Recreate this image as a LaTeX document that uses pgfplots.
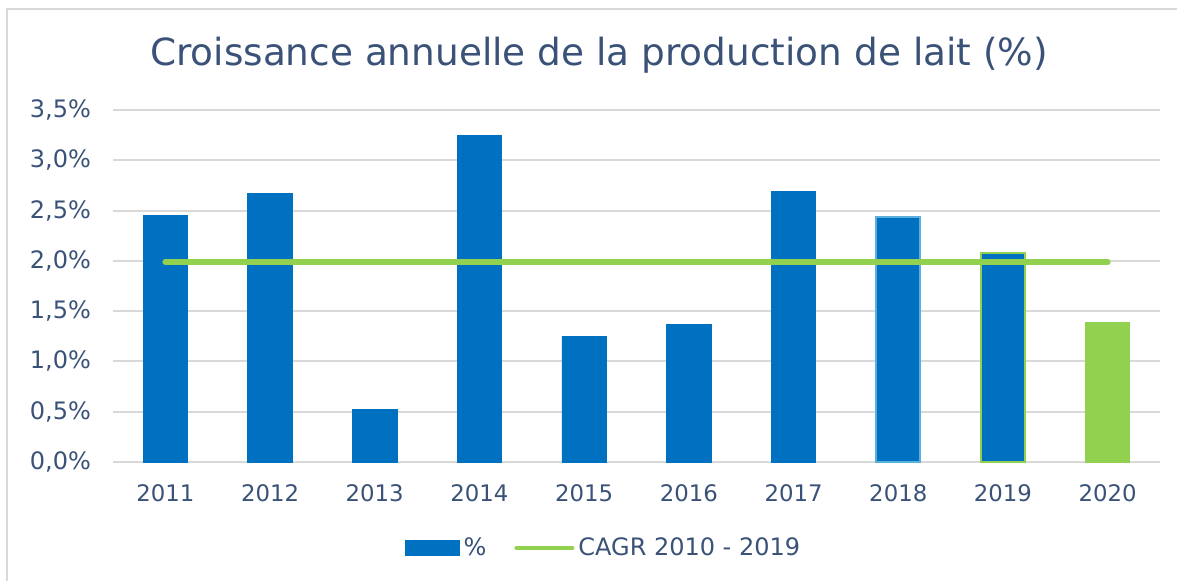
\documentclass[border=0pt]{standalone}
\usepackage{fontspec}
\setmainfont{DejaVu Sans}
\usepackage{pgfplots}
\pgfplotsset{compat=1.18}

\definecolor{barblue}{RGB}{0,112,192}
\definecolor{cagrgreen}{RGB}{146,208,80}
\definecolor{edgeblue}{RGB}{90,175,220}
\definecolor{txt}{RGB}{58,82,120}
\definecolor{gridgray}{RGB}{217,217,217}

\begin{document}
\begin{tikzpicture}
% page frame (1px = 0.5pt)
\path[use as bounding box] (0,0) rectangle (588.5pt,290.5pt);
\draw[gridgray, line width=1pt] (3.5pt,0pt) -- (3.5pt,286pt) -- (588.5pt,286pt);
\node[txt, font=\fontsize{18.7}{22}\selectfont] at (299.5pt,263pt)
  {Croissance annuelle de la production de lait (\%)};

\begin{axis}[
    at={(56.5pt,59.5pt)}, anchor=south west,
    scale only axis,
    width=523.5pt, height=176pt,
    xmin=0.5, xmax=10.5,
    ymin=0, ymax=3.5,
    xtick={1,2,3,4,5,6,7,8,9,10},
    xticklabels={2011,2012,2013,2014,2015,2016,2017,2018,2019,2020},
    ytick={0,0.5,1,1.5,2,2.5,3,3.5},
    yticklabels={{0,0\%},{0,5\%},{1,0\%},{1,5\%},{2,0\%},{2,5\%},{3,0\%},{3,5\%}},
    axis line style={draw=none},
    major tick length=0pt,
    ymajorgrids,
    grid style={gridgray, line width=1pt},
    xticklabel style={txt, font=\fontsize{11.4}{13}\selectfont, yshift=-8pt},
    yticklabel style={txt, font=\fontsize{12}{14}\selectfont, xshift=-7.5pt},
    ybar, bar width=22.2pt, bar shift=0pt,
    legend columns=2,
    legend style={at={(0.4694,-0.244)}, anchor=center, draw=none, fill=none,
      font=\fontsize{12}{14}\selectfont, text=txt,
      /tikz/every even column/.append style={column sep=12pt}},
    clip=false,
]
  % annual growth, 2011-2017
  \addplot[fill=barblue, draw=barblue,
    legend image code/.code={\fill[barblue] (0pt,-3.75pt) rectangle (27pt,3.75pt);}]
    coordinates {(1,2.45) (2,2.67) (3,0.52) (4,3.245) (5,1.25) (6,1.37) (7,2.69)};
  \addlegendentry{\%}
  % 2018, 2019, 2020 drawn with their own outlines
  \addplot[fill=barblue, draw=edgeblue, line width=1pt, forget plot]
    coordinates {(8,2.44)};
  \addplot[fill=barblue, draw=cagrgreen, line width=1pt, forget plot]
    coordinates {(9,2.08)};
  \addplot[fill=cagrgreen, draw=cagrgreen, forget plot]
    coordinates {(10,1.39)};
  % CAGR line
  \addplot[sharp plot, cagrgreen, line width=3pt, line cap=round,
    legend image code/.code={\draw[cagrgreen, line width=2pt] (0pt,0pt) -- (28pt,0pt);}]
    coordinates {(1,1.99) (10,1.99)};
  \addlegendentry{CAGR 2010 - 2019}
\end{axis}
\end{tikzpicture}
\end{document}
